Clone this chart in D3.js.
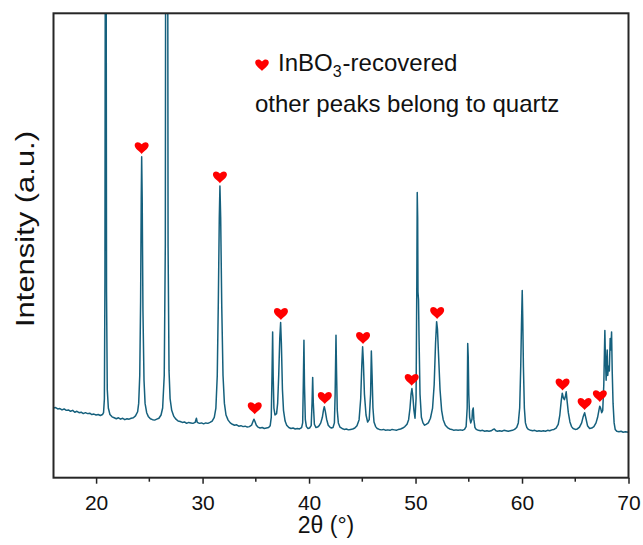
<!DOCTYPE html>
<html>
<head>
<meta charset="utf-8">
<script src="https://cdn.jsdelivr.net/npm/d3@7"></script>
<style>
  body { margin: 0; background: #fff; }
  svg text { font-family: 'Liberation Sans', Arial, sans-serif; fill: #111; }
</style>
</head>
<body>
<div id="chart"></div>
<script>
const width = 643
const height = 545

// 2theta (deg), intensity (a.u.)
const xrd = [
  [16.0,150],[16.2,151],[16.4,148],[16.6,149],[16.8,146],[17.0,148],[17.2,145],[17.4,146],[17.6,143],[17.8,145],
  [18.0,141],[18.2,143],[18.4,140],[18.6,141],[18.8,138],[19.0,140],[19.2,138],[19.4,139],[19.6,136],[19.8,137],
  [20.0,135],[20.2,136],[20.4,134],[20.6,136],[20.7,140],[20.78,170],[20.83,420],[20.88,1500],[20.93,1500],[20.98,400],
  [21.05,190],[21.15,150],[21.3,136],[21.5,131],[21.7,129],[21.9,127],[22.1,129],[22.3,126],[22.5,128],[22.7,125],
  [22.9,127],[23.1,126],[23.3,128],[23.5,129],[23.7,133],[23.9,142],[24.0,160],[24.1,220],[24.18,380],[24.24,600],
  [24.28,691],[24.33,600],[24.4,360],[24.5,210],[24.6,160],[24.75,140],[24.9,132],[25.1,127],[25.3,125],[25.5,124],
  [25.7,126],[25.9,128],[26.1,135],[26.25,150],[26.4,220],[26.5,500],[26.56,1700],[26.7,1700],[26.76,500],[26.85,230],
  [26.95,170],[27.1,145],[27.3,132],[27.5,126],[27.7,122],[27.9,121],[28.1,119],[28.3,120],[28.5,117],[28.7,119],
  [28.9,118],[29.1,117],[29.3,119],[29.42,128],[29.5,119],[29.7,117],[29.9,118],[30.1,116],[30.3,118],[30.5,117],
  [30.7,119],[30.9,122],[31.1,130],[31.25,150],[31.38,220],[31.48,380],[31.57,560],[31.63,628],[31.7,560],[31.8,370],
  [31.92,220],[32.05,160],[32.2,135],[32.4,124],[32.6,118],[32.8,115],[33.0,113],[33.2,114],[33.4,111],[33.6,112],
  [33.8,110],[34.0,111],[34.2,109],[34.4,110],[34.6,113],[34.75,122],[34.83,126],[34.92,121],[35.05,113],[35.2,109],
  [35.4,107],[35.6,108],[35.8,106],[36.0,107],[36.2,108],[36.35,112],[36.45,130],[36.52,220],[36.58,314],[36.63,220],
  [36.7,150],[36.8,135],[36.95,138],[37.05,160],[37.15,220],[37.25,300],[37.33,334],[37.4,290],[37.5,190],[37.6,145],
  [37.75,122],[37.9,113],[38.1,108],[38.3,106],[38.5,107],[38.7,105],[38.9,106],[39.1,105],[39.3,108],[39.4,118],
  [39.46,200],[39.52,296],[39.57,200],[39.65,125],[39.75,110],[39.9,106],[40.05,107],[40.2,112],[40.28,160],[40.34,216],
  [40.4,160],[40.5,115],[40.65,108],[40.8,109],[40.95,112],[41.1,118],[41.25,130],[41.35,145],[41.43,153],[41.52,144],
  [41.65,126],[41.8,113],[41.95,109],[42.1,107],[42.25,108],[42.38,118],[42.45,180],[42.53,307],[42.58,230],[42.65,145],
  [42.75,118],[42.9,109],[43.1,106],[43.3,104],[43.5,105],[43.7,103],[43.9,104],[44.1,105],[44.3,107],[44.5,112],
  [44.7,125],[44.85,170],[44.95,240],[45.03,282],[45.1,250],[45.2,180],[45.35,135],[45.5,120],[45.65,125],[45.78,180],
  [45.85,273],[45.92,220],[46.0,150],[46.1,120],[46.25,110],[46.4,106],[46.6,104],[46.8,103],[47.0,104],[47.2,102],
  [47.4,103],[47.6,102],[47.8,104],[48.0,103],[48.2,102],[48.4,104],[48.6,105],[48.8,107],[49.0,110],[49.2,115],
  [49.35,125],[49.48,150],[49.58,180],[49.66,192],[49.75,175],[49.85,145],[49.95,128],[50.05,170],[50.12,420],[50.16,614],
  [50.2,560],[50.23,400],[50.28,383],[50.33,300],[50.42,180],[50.55,130],[50.7,118],[50.85,113],[51.0,115],[51.2,118],
  [51.4,128],[51.6,150],[51.75,200],[51.88,290],[51.98,336],[52.06,320],[52.15,270],[52.3,190],[52.45,145],[52.6,125],
  [52.8,113],[53.0,108],[53.2,105],[53.4,104],[53.6,102],[53.8,103],[54.0,102],[54.2,103],[54.4,102],[54.6,104],
  [54.75,110],[54.85,150],[54.9,289],[54.95,260],[55.0,180],[55.08,130],[55.18,118],[55.3,126],[55.35,145],[55.42,150],
  [55.48,125],[55.58,108],[55.7,104],[55.9,102],[56.1,101],[56.3,102],[56.5,100],[56.7,101],[56.9,100],[57.1,101],
  [57.3,104],[57.4,105],[57.55,101],[57.7,100],[57.9,101],[58.1,100],[58.3,102],[58.5,101],[58.7,100],[58.9,101],
  [59.1,102],[59.3,104],[59.5,108],[59.65,118],[59.78,150],[59.88,240],[59.95,330],[60.02,403],[60.07,340],[60.13,240],
  [60.22,150],[60.32,118],[60.45,108],[60.6,104],[60.8,102],[61.0,101],[61.2,102],[61.4,100],[61.6,101],[61.8,100],
  [62.0,101],[62.2,100],[62.4,102],[62.6,101],[62.8,103],[63.0,104],[63.2,107],[63.4,115],[63.55,135],[63.68,165],
  [63.78,182],[63.88,172],[63.98,168],[64.08,176],[64.15,185],[64.22,168],[64.35,140],[64.5,120],[64.65,110],[64.8,106],
  [65.0,104],[65.2,105],[65.4,109],[65.6,118],[65.75,132],[65.88,140],[66.0,128],[66.15,112],[66.35,106],[66.55,107],
  [66.75,110],[66.95,118],[67.1,130],[67.22,145],[67.3,154],[67.38,150],[67.48,140],[67.58,145],[67.68,200],[67.74,270],
  [67.78,317],[67.83,260],[67.9,210],[67.95,250],[68.0,275],[68.05,220],[68.12,240],[68.2,230],[68.28,300],[68.35,275],
  [68.41,314],[68.47,230],[68.55,160],[68.65,118],[68.75,104],[68.9,100],[69.1,99],[69.3,100],[69.5,98],[69.7,99],
  [70.0,98]
]

// InBO3 reflections marked with a heart
const inbo3Theta = [24.28, 31.63, 34.9, 37.36, 41.48, 45.07, 49.64, 52.03, 63.81, 65.88, 67.31]
const inbo3Height = [691, 628, 131, 334, 153, 282, 192, 336, 182, 140, 157]

const majorTicks = [20, 30, 40, 50, 60, 70]
const minorTicks = [25, 35, 45, 55, 65]
const xTitle = '2θ (°)'
const yTitle = 'Intensity (a.u.)'
const legendLine2 = 'other peaks belong to quartz'

const box = { left: 53.5, right: 628.5, top: 13.3, bottom: 477.7 }
const lineColor = '#15607d'
const heartColor = '#ff0000'

const heart = (s) => {
  const p = d3.path()
  p.moveTo(0, s * 0.9)
  p.bezierCurveTo(-s * 0.25, s * 0.55, -s, s * 0.15, -s, -s * 0.35)
  p.bezierCurveTo(-s, -s * 0.85, -s * 0.4, -s * 1.0, 0, -s * 0.5)
  p.bezierCurveTo(s * 0.4, -s * 1.0, s, -s * 0.85, s, -s * 0.35)
  p.bezierCurveTo(s, s * 0.15, s * 0.25, s * 0.55, 0, s * 0.9)
  p.closePath()
  return p.toString()
}

const svg = d3.select('#chart')
  .append('svg')
    .attr('width', width)
    .attr('height', height)

const x = d3.scaleLinear().domain([16, 70]).range([box.left, box.right])
const y = d3.scaleLinear().domain([0, 1000]).range([box.bottom, box.top])

svg.append('clipPath')
    .attr('id', 'clip')
  .append('rect')
    .attr('x', box.left)
    .attr('y', box.top)
    .attr('width', box.right - box.left)
    .attr('height', box.bottom - box.top)

const line = d3.line()
  .x(d => x(d[0]))
  .y(d => y(d[1]))

svg.append('path')
  .datum(xrd)
  .attr('clip-path', 'url(#clip)')
  .attr('fill', 'none')
  .attr('stroke', lineColor)
  .attr('stroke-width', 1.5)
  .attr('stroke-linejoin', 'round')
  .attr('d', line)

// hearts above InBO3 peaks
svg.selectAll('.mark')
  .data(inbo3Theta)
  .enter()
  .append('path')
    .classed('mark', true)
    .attr('d', heart(7))
    .attr('fill', heartColor)
    .attr('transform', (d, i) => `translate(${x(d)},${y(inbo3Height[i]) - 9})`)

// bottom axis: labelled major ticks + minor ticks
const xAxis = svg.append('g')
  .attr('transform', `translate(0,${box.bottom})`)
  .call(d3.axisBottom(x).tickValues(majorTicks).tickFormat(d3.format('d')).tickSize(6).tickPadding(11))

xAxis.select('.domain').remove()
xAxis.selectAll('line').attr('stroke', '#222').attr('stroke-width', 1.5)
xAxis.selectAll('text')
  .attr('font-size', 21)
  .attr('fill', '#111')
  .style('font-family', "'Liberation Sans', Arial, sans-serif")

svg.append('g')
  .attr('transform', `translate(0,${box.bottom})`)
  .selectAll('line')
  .data(minorTicks)
  .enter()
  .append('line')
    .attr('x1', d => x(d))
    .attr('x2', d => x(d))
    .attr('y1', 0)
    .attr('y2', 4)
    .attr('stroke', '#222')
    .attr('stroke-width', 1.5)

// frame
svg.append('rect')
  .attr('x', box.left)
  .attr('y', box.top)
  .attr('width', box.right - box.left)
  .attr('height', box.bottom - box.top)
  .attr('fill', 'none')
  .attr('stroke', '#262626')
  .attr('stroke-width', 2)

svg.append('text')
  .attr('x', 326)
  .attr('y', 533)
  .attr('text-anchor', 'middle')
  .attr('font-size', 23)
  .text(xTitle)

svg.append('text')
  .attr('transform', 'translate(34,229) rotate(-90)')
  .attr('text-anchor', 'middle')
  .attr('font-size', 26)
  .attr('textLength', 196)
  .attr('lengthAdjust', 'spacingAndGlyphs')
  .text(yTitle)

// legend
svg.append('path')
  .attr('d', heart(6.8))
  .attr('fill', heartColor)
  .attr('transform', 'translate(262,65)')

const lab = svg.append('text')
  .attr('x', 278)
  .attr('y', 71)
  .attr('font-size', 24)

lab.append('tspan').text('InBO')
lab.append('tspan').attr('font-size', 16).attr('dy', 6).text('3')
lab.append('tspan').attr('dy', -6).attr('dx', 1).text('-recovered')

svg.append('text')
  .attr('x', 255)
  .attr('y', 112)
  .attr('font-size', 24)
  .text(legendLine2)
</script>
</body>
</html>
